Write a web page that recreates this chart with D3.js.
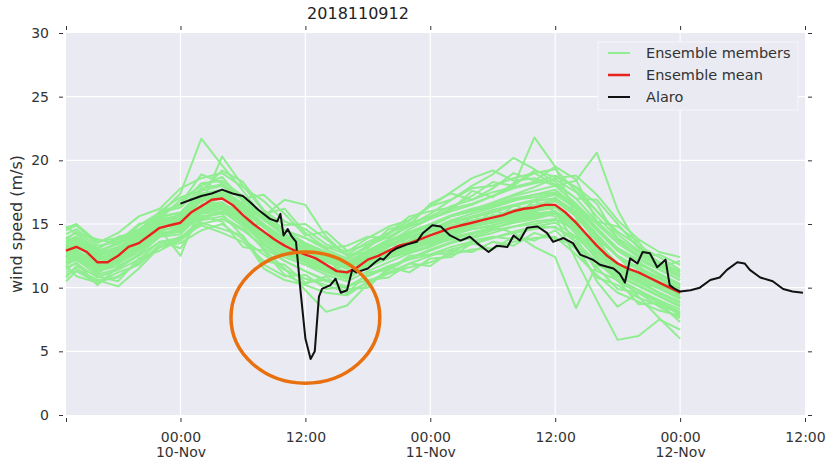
<!DOCTYPE html>
<html>
<head>
<meta charset="utf-8">
<script src="https://cdn.jsdelivr.net/npm/d3@7"></script>
<style>
  body { margin: 0; background: #fff; }
  svg { display: block; font-family: "DejaVu Sans", sans-serif; }
</style>
</head>
<body>
<svg id="chart" width="828" height="461"></svg>
<script>
// === Datos ===
// horas relativas a 2018-11-10 00:00 UTC
const RUN_LABEL = '2018110912';
const X_START_H = -11, X_END_H = 60;
const X_TICK_H = [0, 12, 24, 36, 48, 60];
const Y_TICKS = [0, 5, 10, 15, 20, 25, 30];

// miembros del ensemble (cada 2 h)
const memberHours = [-11, -10, -8, -6, -4, -2, 0, 2, 4, 6, 8, 10, 12, 14, 16, 18, 20, 22, 24, 26, 28, 30, 32, 34, 36, 38, 40, 42, 44, 46, 48];
const members = [
  [14.2,14.6,13.1,13.8,14.5,15.9,16.3,17.8,18.1,17.0,15.6,14.5,13.9,13.0,12.3,13.3,14.0,14.8,15.4,16.2,16.6,17.2,17.8,18.2,18.5,17.5,15.6,13.9,12.8,11.8,11.0],
  [11.6,11.9,10.8,11.4,12.2,13.6,13.9,15.3,15.6,14.6,13.1,12.1,11.3,10.6,10.0,11.0,11.7,12.2,12.6,13.2,13.6,13.9,14.3,14.6,14.8,13.6,12.0,10.6,9.8,9.0,8.3],
  [13.5,13.8,12.6,13.0,14.1,15.3,15.7,17.2,17.4,16.2,14.9,13.7,13.0,12.1,11.5,12.4,13.0,13.2,13.4,14.0,14.3,14.7,15.1,15.4,15.8,14.8,13.0,11.5,10.6,9.6,8.8],
  [12.3,12.6,11.5,12.0,13.0,14.3,14.5,16.0,16.2,15.2,13.8,12.8,12.1,11.5,11.0,12.3,13.3,14.2,14.9,15.6,16.0,16.5,17.0,17.3,17.5,16.6,15.0,13.5,12.4,11.5,10.6],
  [14.7,15.0,13.6,13.9,14.6,15.7,16.5,18.2,18.4,17.2,15.6,14.2,13.3,12.3,11.6,12.4,12.9,13.6,14.2,14.9,15.3,15.6,16.1,16.5,16.9,15.9,14.1,12.4,11.4,10.5,9.6],
  [11.0,11.3,10.4,10.9,11.9,13.2,13.7,15.0,15.4,14.5,13.3,12.4,11.8,11.3,10.8,11.9,12.9,13.7,14.4,15.1,15.5,15.9,16.5,16.9,17.3,16.2,14.5,12.9,11.9,11.0,10.2],
  [13.0,13.5,12.3,12.4,13.3,14.6,15.3,16.4,17.1,16.0,14.2,13.0,12.4,11.6,11.3,12.0,12.7,13.7,14.2,14.5,15.0,15.7,15.8,16.1,16.8,15.6,13.6,11.9,11.1,10.2,9.4],
  [12.1,12.3,11.3,11.7,12.6,14.0,14.2,15.8,16.0,15.1,13.5,12.4,11.8,11.0,10.5,11.3,12.0,12.7,13.2,13.9,14.3,14.7,15.1,15.5,15.8,14.3,12.6,11.2,10.4,9.6,8.8],
  [13.7,14.0,12.9,13.4,14.2,15.6,15.9,17.4,17.7,16.6,15.3,14.1,13.4,12.6,12.0,12.9,13.6,14.2,14.8,15.6,16.0,16.4,16.9,17.1,17.4,16.3,14.6,13.1,12.2,11.4,10.6],
  [12.6,12.9,11.8,12.3,13.2,14.5,14.8,16.3,16.6,15.5,14.1,13.0,12.3,11.5,10.9,11.9,12.6,13.2,13.8,14.4,14.8,15.1,15.5,15.8,16.0,14.2,12.2,10.7,9.8,8.9,8.1],
  [13.3,13.4,12.2,12.9,13.9,15.2,15.6,17.0,17.5,16.6,15.4,14.5,13.9,13.2,12.6,13.6,14.3,15.0,15.6,16.4,16.9,17.5,17.9,18.3,18.8,17.9,16.0,14.4,13.3,12.4,11.4],
  [13.2,13.0,11.7,12.1,13.0,14.2,14.6,16.0,16.3,15.0,13.4,12.1,11.3,10.5,10.1,10.9,11.6,12.3,12.9,13.5,13.9,14.3,14.8,15.0,15.3,14.6,13.3,11.8,10.9,10.0,9.2],
  [12.8,13.7,12.5,13.0,13.7,15.1,15.4,16.8,17.2,16.2,14.8,13.6,12.9,12.2,11.6,12.4,13.2,13.9,14.5,15.1,15.5,15.9,16.4,16.8,17.0,16.0,14.2,12.5,11.5,10.7,9.9],
  [12.2,12.5,11.2,12.0,13.1,14.1,14.8,16.1,16.4,15.3,14.0,12.8,12.0,11.2,10.7,11.7,12.3,13.0,13.5,14.1,14.6,14.9,15.4,15.8,16.0,15.0,13.2,11.6,10.6,9.9,9.1],
  [13.8,14.4,12.8,13.5,14.4,15.8,17.4,21.7,19.6,17.6,15.5,14.0,13.2,12.4,11.8,12.6,13.3,14.0,14.6,15.3,15.8,16.3,16.8,17.3,17.7,16.4,14.5,12.9,11.9,11.0,10.2],
  [12.0,12.7,11.1,12.1,13.0,14.6,12.5,16.5,20.3,18.0,16.0,14.5,13.5,12.6,11.8,12.1,12.5,13.1,13.7,14.2,14.8,15.3,15.7,16.0,16.3,15.0,13.2,11.7,10.8,10.0,9.2],
  [12.5,13.0,11.9,12.7,13.6,14.9,15.6,16.2,16.5,16.0,15.6,16.9,16.5,14.0,12.5,12.8,13.4,14.0,14.6,15.2,15.6,16.1,16.5,16.8,17.0,15.8,14.0,12.5,11.6,10.8,10.0],
  [11.8,12.2,11.0,11.5,12.6,14.0,14.5,15.5,16.0,14.8,13.0,11.5,9.8,8.1,8.6,10.3,11.4,12.3,13.0,13.6,14.0,14.5,14.8,15.2,15.4,14.5,12.8,11.4,10.5,9.6,8.9],
  [14.6,14.9,13.3,13.6,14.2,15.1,15.8,17.3,17.7,16.5,15.0,13.8,13.2,12.5,12.0,12.9,13.8,14.9,15.8,16.9,18.0,18.9,20.2,19.3,18.3,17.0,15.2,13.7,12.6,11.7,10.8],
  [13.0,13.3,12.1,12.8,13.7,15.0,15.3,16.9,17.2,16.1,14.7,13.5,12.8,12.0,11.5,12.6,13.5,14.6,15.4,16.0,16.5,17.2,18.0,21.8,19.5,15.5,12.2,10.5,9.6,8.8,8.0],
  [11.9,12.2,11.3,11.9,12.8,14.2,14.4,15.9,16.2,15.0,13.7,12.6,12.0,11.3,10.8,11.6,12.3,12.9,13.6,14.3,14.6,14.8,14.3,13.2,12.4,8.4,11.8,11.0,10.2,9.4,8.6],
  [13.4,13.6,12.4,13.1,14.0,15.4,15.6,17.1,17.5,16.4,15.0,13.9,13.2,12.5,11.9,12.8,13.7,14.4,15.0,15.7,16.2,16.6,17.2,17.6,18.0,18.4,20.6,16.1,13.2,12.0,11.2],
  [12.4,12.8,11.6,12.2,13.3,14.4,14.9,16.2,16.5,15.4,14.1,12.9,12.2,11.4,10.8,11.8,12.5,13.2,13.8,14.4,14.9,15.2,15.6,15.9,15.6,12.2,9.0,5.9,6.2,7.5,6.7],
  [12.7,12.9,11.9,12.5,13.4,14.7,15.0,16.5,16.7,15.6,14.3,13.1,12.4,11.6,11.0,12.0,12.7,13.3,13.9,14.5,15.0,15.3,15.8,16.2,16.4,15.2,13.0,11.0,9.3,7.6,6.0],
  [13.1,13.4,12.3,12.8,13.8,15.1,15.4,16.9,17.3,16.3,14.9,13.8,13.1,12.4,11.8,12.8,13.6,14.3,14.9,15.6,16.1,16.7,17.3,17.9,18.6,18.8,17.3,15.3,13.8,12.8,12.4],
  [12.3,12.4,11.4,12.3,13.4,14.9,15.2,16.5,16.7,15.5,14.2,12.9,12.1,11.3,10.7,11.7,12.4,13.1,13.6,14.2,14.6,14.9,15.3,15.7,15.9,13.5,10.5,8.5,9.6,9.0,7.8],
  [10.5,11.3,10.6,10.1,11.5,13.2,13.9,15.4,15.9,15.2,14.0,12.9,12.2,11.7,11.1,11.8,12.3,12.8,13.3,13.8,14.2,14.6,15.2,15.6,15.9,14.8,13.3,11.9,11.0,10.3,9.5],
  [13.6,13.9,12.7,13.2,14.1,15.5,15.9,17.6,18.0,16.9,15.4,14.2,13.5,12.8,12.2,13.2,14.2,15.3,16.4,17.5,18.6,19.2,18.4,18.6,18.0,16.6,14.7,13.1,12.0,11.1,10.3],
  [12.0,12.4,11.4,12.0,13.0,14.2,14.4,15.6,15.8,14.0,11.5,10.6,10.2,9.6,9.4,10.5,11.2,11.9,12.5,13.0,13.4,13.9,14.4,14.8,15.1,14.0,12.4,10.9,10.1,9.3,8.5],
  [14.5,14.9,13.5,14.3,15.6,16.2,17.8,18.6,19.0,17.9,16.8,15.2,14.6,13.4,12.8,13.9,14.8,15.3,16.4,16.9,17.8,18.0,18.6,19.0,19.3,17.6,16.0,14.2,12.9,12.0,11.3],
  [13.9,14.3,13.8,13.4,14.9,15.9,16.6,18.9,18.2,17.0,17.3,15.8,14.1,14.4,12.9,13.4,14.3,15.6,16.0,16.3,17.2,18.3,18.0,19.2,18.7,17.9,16.6,13.8,12.4,12.6,11.8],
  [14.8,14.2,13.0,14.0,14.3,16.0,17.1,17.6,19.2,18.3,16.1,14.9,15.0,13.8,12.5,13.1,14.6,14.9,16.6,17.4,16.9,17.8,19.0,18.4,19.5,18.5,15.2,14.8,13.6,11.6,12.1],
  [13.3,13.9,12.7,13.6,15.0,15.4,16.9,18.0,18.7,16.8,15.8,16.2,14.3,13.1,13.3,14.0,13.9,15.1,15.5,16.1,17.6,17.1,18.2,19.0,18.1,17.0,16.9,15.0,13.1,11.9,11.0],
  [11.2,11.5,10.6,10.8,12.1,13.2,13.5,14.5,15.0,13.8,12.6,11.4,10.7,10.2,9.6,10.4,11.1,11.6,12.0,12.6,13.0,13.1,13.6,13.9,14.0,12.6,11.0,9.6,8.9,8.2,7.8],
  [11.7,10.9,10.4,11.2,11.8,13.4,14.0,14.9,14.3,13.6,12.1,11.8,10.4,10.6,9.9,10.0,11.6,11.2,12.3,12.4,13.5,13.0,14.0,13.7,14.5,13.0,10.8,10.2,9.2,8.6,8.0],
  [10.8,11.7,10.9,10.5,12.3,12.9,13.8,15.1,14.6,14.1,11.8,10.9,11.0,9.9,10.1,10.6,10.8,11.9,11.7,12.9,12.8,13.6,13.3,14.3,13.8,13.4,11.6,9.9,9.6,8.5,7.6],
  [11.4,12.0,10.2,11.6,12.5,13.6,13.1,15.6,15.2,13.2,12.9,11.0,10.3,10.9,9.5,11.2,11.4,12.5,12.6,12.7,13.7,14.0,13.8,14.9,14.7,13.9,11.3,10.6,8.7,8.8,7.3],
  [13.4,12.6,12.5,11.8,13.9,14.4,15.8,16.0,17.6,15.2,14.9,12.8,13.1,11.4,11.7,12.0,13.4,13.1,14.6,14.3,15.6,15.1,16.5,15.9,17.1,15.6,13.9,11.5,11.8,10.1,10.0],
  [12.4,13.8,11.5,13.1,13.0,15.2,14.6,17.0,16.3,16.3,13.9,13.9,12.1,12.3,10.8,12.7,12.4,14.1,13.6,15.3,14.7,16.1,15.6,16.8,16.0,14.6,13.8,12.5,10.7,10.9,9.2]
];

// media del ensemble (horaria, -11 .. 48)
const meanHours = d3.range(-11, 49);
const meanSpeed = [
  12.9, 13.2, 12.8, 12.0, 12.0, 12.5, 13.2, 13.5, 14.1, 14.7, 14.9, 15.1,
  15.9, 16.4, 16.9, 17.0, 16.5, 15.7, 15.0, 14.4, 13.8, 13.3, 12.9, 12.6,
  12.3, 11.8, 11.3, 11.2, 11.6, 12.2, 12.5, 12.9, 13.3, 13.5, 13.8, 14.1,
  14.4, 14.7, 14.9, 15.1, 15.3, 15.5, 15.7, 16.0, 16.2, 16.3, 16.5, 16.5,
  15.9, 15.1, 14.2, 13.3, 12.5, 11.9, 11.5, 11.2, 10.8, 10.4, 10.0, 9.6
];

// Alaro
const alaroHours = [0, 1, 2, 3, 4, 5, 6, 6.7, 7.5, 8.6, 9.3, 9.6, 9.9, 10.3, 10.7, 11.1, 11.5, 12.0, 12.5, 12.9, 13.3, 13.6, 14.4, 14.9, 15.4, 16.0, 16.5, 16.9, 18.0, 18.7, 19.2, 19.5, 20.2, 20.8, 21.8, 22.7, 23.3, 24.2, 25.0, 25.9, 26.9, 27.8, 28.5, 29.6, 30.4, 31.4, 32.0, 32.6, 33.3, 34.3, 35.2, 35.8, 36.8, 37.7, 38.4, 39.6, 40.3, 41.6, 42.2, 42.7, 43.2, 43.9, 44.4, 45.1, 45.8, 46.6, 47.0, 47.5, 48.0, 49.0, 49.9, 50.9, 51.8, 52.5, 53.5, 54.2, 54.7, 55.7, 56.9, 57.9, 58.8, 59.8];
const alaroSpeed = [16.6, 16.9, 17.2, 17.4, 17.7, 17.4, 17.2, 16.7, 16.1, 15.4, 15.2, 15.8, 14.1, 14.6, 14.0, 13.6, 10.0, 6.0, 4.4, 5.0, 9.3, 9.9, 10.2, 10.7, 9.6, 9.8, 11.4, 11.2, 11.5, 12.0, 12.3, 12.2, 12.8, 13.1, 13.4, 13.6, 14.3, 14.9, 14.8, 14.1, 13.7, 14.0, 13.5, 12.8, 13.3, 13.2, 14.1, 13.7, 14.7, 14.8, 14.3, 13.6, 13.9, 13.5, 12.6, 12.2, 11.8, 11.5, 11.1, 10.4, 12.3, 11.9, 12.8, 12.7, 11.6, 12.2, 10.2, 9.9, 9.7, 9.8, 10.0, 10.6, 10.8, 11.4, 12.0, 11.9, 11.4, 10.8, 10.5, 9.9, 9.7, 9.6];

// anotación: elipse alrededor de la caída (centro en horas / m/s, radios)
const highlight = { h: 12, v: 7.65, rh: 7.15, rv: 5.15 };

const legendItems = [
  { label: 'Ensemble members', color: '#90ee90', width: 2 },
  { label: 'Ensemble mean', color: '#e8231b', width: 2.5 },
  { label: 'Alaro', color: '#111111', width: 2 }
];

// === Escalas ===
const BASE = Date.UTC(2018, 10, 10, 0, 0);
const toDate = h => new Date(BASE + h * 3600e3);

const svg = d3.select('#chart');
const plot = { left: 66, right: 805, top: 33, bottom: 415 };

const x = d3.scaleUtc()
  .domain([toDate(X_START_H), toDate(X_END_H)])
  .range([plot.left, plot.right]);
const y = d3.scaleLinear().domain([0, 30]).range([plot.bottom, plot.top]);

// fondo + rejilla
svg.append('rect')
  .attr('x', plot.left).attr('y', plot.top)
  .attr('width', plot.right - plot.left).attr('height', plot.bottom - plot.top)
  .attr('fill', '#eaeaf2');

const grid = svg.append('g').attr('stroke', '#fff').attr('stroke-width', 1.2);
grid.selectAll('line.h').data(Y_TICKS.slice(1, -1)).join('line')
  .attr('x1', plot.left).attr('x2', plot.right)
  .attr('y1', d => y(d)).attr('y2', d => y(d));
grid.selectAll('line.v').data(X_TICK_H.slice(0, -1)).join('line')
  .attr('y1', plot.top).attr('y2', plot.bottom)
  .attr('x1', d => x(toDate(d))).attr('x2', d => x(toDate(d)));

// === Series ===
const line = d3.line().x(d => x(toDate(d[0]))).y(d => y(d[1]));

svg.append('g')
  .selectAll('path').data(members).join('path')
  .attr('d', m => line(m.map((v, i) => [memberHours[i], v])))
  .attr('fill', 'none').attr('stroke', '#90ee90')
  .attr('stroke-width', 2).attr('stroke-linejoin', 'round');

svg.append('path')
  .attr('d', line(meanSpeed.map((v, i) => [meanHours[i], v])))
  .attr('fill', 'none').attr('stroke', '#e8231b').attr('stroke-width', 2.4)
  .attr('stroke-linejoin', 'round');

svg.append('path')
  .attr('d', line(alaroSpeed.map((v, i) => [alaroHours[i], v])))
  .attr('fill', 'none').attr('stroke', '#111').attr('stroke-width', 2)
  .attr('stroke-linejoin', 'round');

// elipse naranja
const cx = x(toDate(highlight.h)), cy = y(highlight.v);
svg.append('ellipse')
  .attr('cx', cx).attr('cy', cy)
  .attr('rx', x(toDate(highlight.h + highlight.rh)) - cx)
  .attr('ry', cy - y(highlight.v + highlight.rv))
  .attr('fill', 'none').attr('stroke', '#e8700f').attr('stroke-width', 3.5);

// === Ejes ===
const tickDates = [toDate(X_START_H), ...X_TICK_H.map(toDate)];
const fmtH = d3.utcFormat('%H:%M'), fmtD = d3.utcFormat('%d-%b');

function styleAxis(g) {
  g.select('.domain').remove();
  g.selectAll('line').attr('stroke', '#333');
  g.selectAll('text').attr('fill', '#333').attr('font-size', 14)
    .attr('font-family', '"DejaVu Sans", sans-serif');
}

svg.append('g').attr('transform', `translate(63,0)`)
  .call(d3.axisLeft(y).tickValues(Y_TICKS).tickSize(4).tickPadding(10))
  .call(styleAxis);
svg.append('g').attr('transform', `translate(808,0)`)
  .call(d3.axisRight(y).tickValues(Y_TICKS).tickSize(4).tickFormat(''))
  .call(styleAxis);
svg.append('g').attr('transform', `translate(0,30)`)
  .call(d3.axisTop(x).tickValues(tickDates).tickSize(4).tickFormat(''))
  .call(styleAxis);

const xb = svg.append('g').attr('transform', `translate(0,418)`)
  .call(d3.axisBottom(x).tickValues(tickDates).tickSize(4).tickPadding(10).tickFormat(''))
  .call(styleAxis);
xb.selectAll('.tick text').each(function (d, i) {
  if (i === 0) return;
  const t = d3.select(this);
  t.append('tspan').attr('x', 0).text(fmtH(d));
  if (d.getUTCHours() === 0) t.append('tspan').attr('x', 0).attr('dy', '1.08em').text(fmtD(d));
});

// título y etiqueta Y
svg.append('text')
  .attr('x', 358).attr('y', 19).attr('text-anchor', 'middle')
  .attr('font-size', 16).attr('fill', '#222').text(RUN_LABEL);

svg.append('text')
  .attr('transform', `translate(22,${(plot.top + plot.bottom) / 2}) rotate(-90)`)
  .attr('text-anchor', 'middle').attr('font-size', 16).attr('fill', '#333')
  .text('wind speed (m/s)');

// === Leyenda ===
const lg = svg.append('g').attr('transform', 'translate(598,42)');
lg.append('rect').attr('width', 200).attr('height', 68)
  .attr('fill', '#eaeaf2').attr('stroke', '#f6f6fa').attr('stroke-width', 1);
const row = lg.selectAll('g').data(legendItems).join('g')
  .attr('transform', (d, i) => `translate(0,${11 + i * 22})`);
row.append('line').attr('x1', 10).attr('x2', 32)
  .attr('stroke', d => d.color).attr('stroke-width', d => d.width);
row.append('text').attr('x', 48).attr('dy', '0.36em')
  .attr('font-size', 14.5).attr('fill', '#333').text(d => d.label);
</script>
</body>
</html>
